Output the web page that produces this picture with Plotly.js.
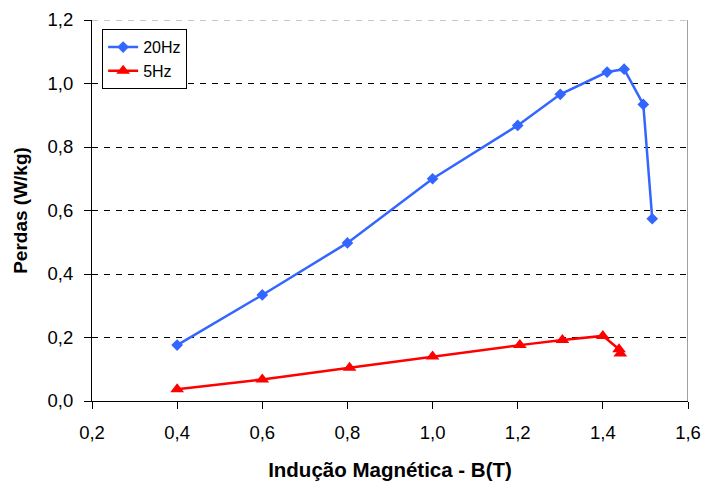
<!DOCTYPE html>
<html>
<head>
<meta charset="utf-8">
<script src="https://cdn.plot.ly/plotly-3.0.1.min.js"></script>
<style>html,body{margin:0;padding:0;background:#fff}#chart{width:704px;height:485px}</style>
</head>
<body>
<div id="chart"></div>
<script>
const b20 = [0.4, 0.6, 0.8, 1.0, 1.2, 1.3, 1.41, 1.45, 1.495, 1.516];
const p20 = [0.176, 0.334, 0.498, 0.700, 0.868, 0.966, 1.036, 1.045, 0.934, 0.574];
const b5 = [0.4, 0.6, 0.805, 1.0, 1.205, 1.305, 1.4, 1.438, 1.441];
const p5 = [0.037, 0.068, 0.105, 0.140, 0.176, 0.192, 0.205, 0.163, 0.150];
const xTicks = [0.2, 0.4, 0.6, 0.8, 1.0, 1.2, 1.4, 1.6];
const yTicks = [0.0, 0.2, 0.4, 0.6, 0.8, 1.0, 1.2];
const names = ['20Hz', '5Hz'];

const font = 'Liberation Sans, Arial, sans-serif';
const traces = [
  {x: b20, y: p20, name: names[0], type: 'scatter', mode: 'lines+markers',
   line: {color: '#3366FF', width: 2.5}, marker: {symbol: 'diamond', size: 9, color: '#3366FF'}},
  {x: b5, y: p5, name: names[1], type: 'scatter', mode: 'lines+markers',
   line: {color: '#FF0000', width: 2.5}, marker: {symbol: 'triangle-up', size: 12, color: '#FF0000'}}
];
const layout = {
  width: 704, height: 485,
  margin: {l: 92, r: 16, t: 20, b: 84},
  paper_bgcolor: '#fff', plot_bgcolor: '#fff',
  separators: ',.',
  font: {family: font, size: 18.5, color: '#000'},
  showlegend: true,
  legend: {x: 0.017, y: 0.976, xanchor: 'left', yanchor: 'top', bgcolor: '#fff',
           bordercolor: '#000', borderwidth: 1, font: {family: font, size: 16},
           itemwidth: 30, entrywidth: 50},
  xaxis: {range: [0.2, 1.6], tickvals: xTicks, tickformat: '.1f', showgrid: false,
          ticks: 'outside', ticklen: 7, tickcolor: '#000', showline: true, linecolor: '#000', linewidth: 1,
          zeroline: false, ticklabelstandoff: 8,
          title: {text: '<b>Indução Magnética - B(T)</b>', font: {family: font, size: 20.5}, standoff: 20}},
  yaxis: {range: [0, 1.2], tickvals: yTicks, tickformat: '.1f', showgrid: true, gridcolor: '#000',
          griddash: '6px,6px', gridwidth: 1,
          ticks: 'outside', ticklen: 7, tickcolor: '#000', showline: true, linecolor: '#000', linewidth: 1,
          zeroline: false, ticklabelstandoff: 7,
          title: {text: '<b>Perdas (W/kg)</b>', font: {family: font, size: 19}, standoff: 14}},
  shapes: [
    {type: 'line', xref: 'x', yref: 'y', x0: 1.6, x1: 1.6, y0: 0, y1: 1.2, line: {color: '#a0a0a0', width: 2}},
    {type: 'line', xref: 'x', yref: 'y', x0: 0.2, x1: 1.6, y0: 1.2, y1: 1.2, line: {color: '#909090', width: 1, dash: '6px,6px'}}
  ]
};
Plotly.newPlot('chart', traces, layout, {displayModeBar: false, staticPlot: true});
</script>
</body>
</html>
